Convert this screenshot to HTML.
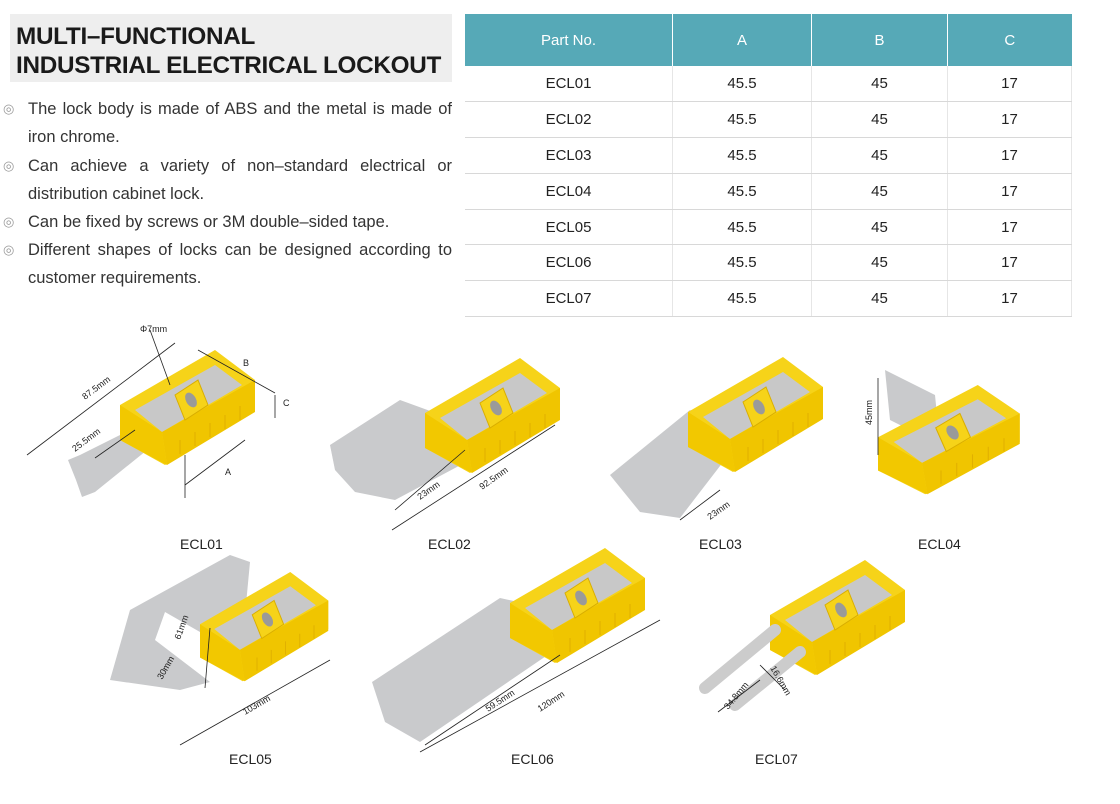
<!DOCTYPE html>
<html><head><meta charset="utf-8"><style>
body{margin:0;width:1120px;height:804px;background:#fff;font-family:"Liberation Sans",sans-serif;position:relative;overflow:hidden}
.tb{position:absolute;left:10px;top:14px;width:442px;height:68px;background:#eeeeee}
.tb div{position:absolute;left:6px;font-weight:bold;font-size:24.3px;color:#1a1a1a;letter-spacing:-0.3px;white-space:nowrap}
.bl{position:absolute;left:28px;width:424px;font-size:16.5px;color:#333;line-height:28.3px;text-align:justify;text-align-last:left}
.bi{position:absolute;left:3px;font-size:13px;color:#999}
table{position:absolute;left:465px;top:14px;border-collapse:collapse;font-size:15px;color:#222;table-layout:fixed;width:607px}
th{background:#56a9b7;color:#fff;font-weight:normal;height:52px;border-right:1px solid #fff;padding:0}
td{height:34.9px;text-align:center;border-bottom:1px solid #d8d8d8;border-right:1px solid #e6e6e6;padding:0}
.lb{position:absolute;font-size:14px;color:#222}
</style></head><body>
<div class="tb"><div style="top:9px">MULTI–FUNCTIONAL</div><div style="top:38px">INDUSTRIAL ELECTRICAL LOCKOUT</div></div>
<span class="bi" style="top:101px">◎</span><div class="bl" style="top:95px">The lock body is made of ABS and the metal is made of iron chrome.</div>
<span class="bi" style="top:158px">◎</span><div class="bl" style="top:152px">Can achieve a variety of non–standard electrical or distribution cabinet lock.</div>
<span class="bi" style="top:214px">◎</span><div class="bl" style="top:208px">Can be fixed by screws or 3M double–sided tape.</div>
<span class="bi" style="top:242px">◎</span><div class="bl" style="top:236px">Different shapes of locks can be designed according to customer requirements.</div>
<table>
<tr><th style="width:207px">Part No.</th><th style="width:138px">A</th><th style="width:135px">B</th><th style="border-right:none">C</th></tr>
<tr><td>ECL01</td><td>45.5</td><td>45</td><td>17</td></tr>
<tr><td>ECL02</td><td>45.5</td><td>45</td><td>17</td></tr>
<tr><td>ECL03</td><td>45.5</td><td>45</td><td>17</td></tr>
<tr><td>ECL04</td><td>45.5</td><td>45</td><td>17</td></tr>
<tr><td>ECL05</td><td>45.5</td><td>45</td><td>17</td></tr>
<tr><td>ECL06</td><td>45.5</td><td>45</td><td>17</td></tr>
<tr><td>ECL07</td><td>45.5</td><td>45</td><td>17</td></tr>
</table>
<svg width="1120" height="804" style="position:absolute;left:0;top:0" font-family="Liberation Sans, sans-serif">
<defs>
<g id="lk">
<polygon points="0,55 95,0 135,30 135,60 45,115 0,90" fill="#f6d319"/>
<polygon points="15,60 95,15 122,35 42,82" fill="#c8c8c8"/>
<polygon points="42,82 135,30 135,62 47,115" fill="#f0c500"/>
<g stroke="#e0b000" stroke-width="1">
<line x1="60" y1="90" x2="60" y2="104"/><line x1="75" y1="82" x2="75" y2="96"/><line x1="90" y1="73" x2="90" y2="87"/><line x1="105" y1="65" x2="105" y2="79"/><line x1="120" y1="56" x2="120" y2="70"/></g>
<polygon points="0,55 42,82 47,115 0,90" fill="#f2c800"/>
<polygon points="55,45 78,30 88,55 65,70" fill="#f6d319" stroke="#d9ae00"/>
<ellipse cx="71" cy="50" rx="5" ry="8" fill="#9a9a9a" transform="rotate(-30 71 50)"/>
</g>
</defs>
<g fill="#c9cacc">
<polygon points="68,460 80,455 150,420 162,438 95,492 82,497 76,480"/>
<polygon points="330,445 400,400 455,420 470,460 395,500 355,492 335,470"/>
<polygon points="610,475 690,410 740,440 680,518 640,512"/>
<polygon points="885,370 935,395 940,445 890,420"/>
<polygon points="110,680 130,610 230,555 250,562 245,615 200,632 165,612 155,640 210,682 180,690"/>
<polygon points="372,682 500,598 565,612 552,652 420,742 385,722"/>
</g>
<use href="#lk" transform="translate(120,350)"/>
<use href="#lk" transform="translate(425,358)"/>
<use href="#lk" transform="translate(688,357)"/>
<use href="#lk" transform="translate(878,385) scale(1.05,0.95)"/>
<use href="#lk" transform="translate(200,572) scale(0.95)"/>
<use href="#lk" transform="translate(510,548)"/>
<use href="#lk" transform="translate(770,560)"/>
<g stroke="#ccc" stroke-width="12" stroke-linecap="round"><line x1="705" y1="688" x2="775" y2="630"/><line x1="735" y1="705" x2="800" y2="652"/></g>
<g stroke="#222" stroke-width="0.8" fill="none">
<line x1="27" y1="455" x2="175" y2="343"/>
<line x1="95" y1="458" x2="135" y2="430"/><line x1="198" y1="350" x2="275" y2="393"/><line x1="275" y1="395" x2="275" y2="418"/>
<line x1="185" y1="485" x2="245" y2="440"/><line x1="185" y1="455" x2="185" y2="498"/><line x1="150" y1="330" x2="170" y2="385"/>
<line x1="395" y1="510" x2="465" y2="450"/><line x1="392" y1="530" x2="555" y2="425"/>
<line x1="680" y1="520" x2="720" y2="490"/>
<line x1="878" y1="378" x2="878" y2="455"/>
<line x1="210" y1="628" x2="205" y2="688"/><line x1="180" y1="745" x2="330" y2="660"/>
<line x1="425" y1="745" x2="560" y2="655"/><line x1="420" y1="752" x2="660" y2="620"/>
<line x1="718" y1="712" x2="760" y2="680"/><line x1="760" y1="665" x2="785" y2="690"/>
</g>
<g font-size="9" fill="#222">
<text x="140" y="332">Φ7mm</text>
<text x="85" y="400" transform="rotate(-37 85 400)">87.5mm</text>
<text x="75" y="452" transform="rotate(-37 75 452)">25.5mm</text>
<text x="243" y="366">B</text><text x="283" y="406">C</text><text x="225" y="475">A</text>
<text x="420" y="500" transform="rotate(-35 420 500)">23mm</text>
<text x="482" y="490" transform="rotate(-35 482 490)">92.5mm</text>
<text x="710" y="520" transform="rotate(-35 710 520)">23mm</text>
<text x="872" y="425" transform="rotate(-90 872 425)">45mm</text>
<text x="180" y="640" transform="rotate(-70 180 640)">61mm</text>
<text x="162" y="680" transform="rotate(-60 162 680)">30mm</text>
<text x="245" y="715" transform="rotate(-30 245 715)">103mm</text>
<text x="488" y="712" transform="rotate(-33 488 712)">59.5mm</text>
<text x="540" y="712" transform="rotate(-33 540 712)">120mm</text>
<text x="728" y="710" transform="rotate(-50 728 710)">34.8mm</text>
<text x="770" y="668" transform="rotate(60 770 668)">16.6mm</text>
</g>
</svg>
<div class="lb" style="left:180px;top:536px">ECL01</div>
<div class="lb" style="left:428px;top:536px">ECL02</div>
<div class="lb" style="left:699px;top:536px">ECL03</div>
<div class="lb" style="left:918px;top:536px">ECL04</div>
<div class="lb" style="left:229px;top:751px">ECL05</div>
<div class="lb" style="left:511px;top:751px">ECL06</div>
<div class="lb" style="left:755px;top:751px">ECL07</div>
</body></html>
